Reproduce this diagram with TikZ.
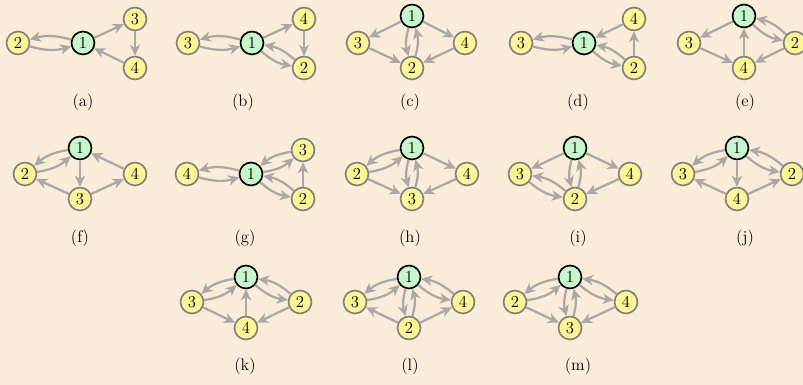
\documentclass[tikz,border=0pt]{standalone}
\usetikzlibrary{arrows.meta}
\definecolor{bg}{RGB}{250,236,216}
\definecolor{ylw}{RGB}{255,244,150}
\definecolor{grn}{RGB}{200,246,204}
\definecolor{ngray}{RGB}{128,128,128}
\definecolor{egray}{RGB}{168,168,168}
\tikzset{
  v/.style={circle, draw=ngray, fill=ylw, line width=1.2pt, minimum size=16.5pt, inner sep=0pt, font=\fontsize{12}{14}\selectfont},
  root/.style={v, draw=black, fill=grn},
  e/.style={draw=egray, line width=1.6pt, -{Stealth[length=8pt,width=7.5pt,inset=2.5pt]}},
  pr/.style={e, bend right=16},
  lab/.style={inner sep=0pt, font=\fontsize{12}{14}\selectfont}
}
\begin{document}
\begin{tikzpicture}[x=0.72pt,y=-0.72pt]
\fill[bg] (0,0) rectangle (803,385);
\useasboundingbox (0,0) rectangle (803,385);
\clip (0,0) rectangle (803,385);
% (a)
\node[root] (a1) at (83,43) {1};
\node[v] (a2) at (18,43) {2};
\node[v] (a3) at (135,19) {3};
\node[v] (a4) at (135,68) {4};
\draw[pr] (a1) to (a2); \draw[pr] (a2) to (a1);
\draw[e] (a1) -- (a3); \draw[e] (a3) -- (a4); \draw[e] (a4) -- (a1);
\node[lab] (la) at (83,102) {(a)};
% (b)
\node[root] (b1) at (252,43) {1};
\node[v] (b3) at (188,43) {3};
\node[v] (b4) at (304,19) {4};
\node[v] (b2) at (304,68) {2};
\draw[pr] (b1) to (b3); \draw[pr] (b3) to (b1);
\draw[e] (b1) -- (b4); \draw[e] (b4) -- (b2);
\draw[pr] (b1) to (b2); \draw[pr] (b2) to (b1);
\node[lab] (lb) at (243,102) {(b)};
% (c)
\node[root] (c1) at (412,16) {1};
\node[v] (c3) at (358,43) {3};
\node[v] (c2) at (412,68) {2};
\node[v] (c4) at (465,43) {4};
\draw[e] (c1) -- (c3); \draw[e] (c1) -- (c4);
\draw[e] (c3) -- (c2); \draw[e] (c4) -- (c2);
\draw[pr] (c1) to (c2); \draw[pr] (c2) to (c1);
\node[lab] (lc) at (410,102) {(c)};
% (d)
\node[root] (d1) at (584,43) {1};
\node[v] (d3) at (521,43) {3};
\node[v] (d4) at (634,19) {4};
\node[v] (d2) at (634,68) {2};
\draw[pr] (d1) to (d3); \draw[pr] (d3) to (d1);
\draw[e] (d4) -- (d1); \draw[e] (d2) -- (d4);
\draw[pr] (d1) to (d2); \draw[pr] (d2) to (d1);
\node[lab] (ld) at (578,102) {(d)};
% (e)
\node[root] (e1) at (744,16) {1};
\node[v] (e3) at (689,43) {3};
\node[v] (e4) at (744,68) {4};
\node[v] (e2) at (795,43) {2};
\draw[e] (e1) -- (e3); \draw[e] (e3) -- (e4); \draw[e] (e4) -- (e1);
\draw[e] (e2) -- (e4);
\draw[pr] (e1) to (e2); \draw[pr] (e2) to (e1);
\node[lab] (le) at (745,102) {(e)};
% (f)
\node[root] (f1) at (80,148) {1};
\node[v] (f2) at (25,174) {2};
\node[v] (f3) at (80,199) {3};
\node[v] (f4) at (135,174) {4};
\draw[pr] (f1) to (f2); \draw[pr] (f2) to (f1);
\draw[e] (f1) -- (f3); \draw[e] (f3) -- (f2); \draw[e] (f3) -- (f4); \draw[e] (f4) -- (f1);
\node[lab] (lf) at (80,238) {(f)};
% (g)
\node[root] (g1) at (251,174) {1};
\node[v] (g4) at (187,174) {4};
\node[v] (g3) at (303,150) {3};
\node[v] (g2) at (303,199) {2};
\draw[pr] (g1) to (g4); \draw[pr] (g4) to (g1);
\draw[pr] (g1) to (g3); \draw[pr] (g3) to (g1);
\draw[e] (g2) -- (g3);
\draw[pr] (g1) to (g2); \draw[pr] (g2) to (g1);
\node[lab] (lg) at (245,238) {(g)};
% (h)
\node[root] (h1) at (412,148) {1};
\node[v] (h2) at (357,174) {2};
\node[v] (h3) at (412,199) {3};
\node[v] (h4) at (467,174) {4};
\draw[pr] (h1) to (h2); \draw[pr] (h2) to (h1);
\draw[e] (h2) -- (h3); \draw[e] (h1) -- (h4); \draw[e] (h4) -- (h3);
\draw[pr] (h1) to (h3); \draw[pr] (h3) to (h1);
\node[lab] (lh) at (410,238) {(h)};
% (i)
\node[root] (i1) at (575,148) {1};
\node[v] (i3) at (520,174) {3};
\node[v] (i2) at (575,199) {2};
\node[v] (i4) at (630,174) {4};
\draw[e] (i1) -- (i3); \draw[e] (i1) -- (i4); \draw[e] (i4) -- (i2);
\draw[pr] (i1) to (i2); \draw[pr] (i2) to (i1);
\draw[pr] (i2) to (i3); \draw[pr] (i3) to (i2);
\node[lab] (li) at (578,238) {(i)};
% (j)
\node[root] (j1) at (737,148) {1};
\node[v] (j3) at (683,174) {3};
\node[v] (j4) at (737,199) {4};
\node[v] (j2) at (792,174) {2};
\draw[pr] (j1) to (j3); \draw[pr] (j3) to (j1);
\draw[e] (j1) -- (j4); \draw[e] (j4) -- (j3); \draw[e] (j4) -- (j2);
\draw[pr] (j1) to (j2); \draw[pr] (j2) to (j1);
\node[lab] (lj) at (745,238) {(j)};
% (k)
\node[root] (k1) at (246,277) {1};
\node[v] (k3) at (192,302) {3};
\node[v] (k4) at (246,328) {4};
\node[v] (k2) at (300,302) {2};
\draw[pr] (k1) to (k3); \draw[pr] (k3) to (k1);
\draw[e] (k3) -- (k4); \draw[e] (k4) -- (k1); \draw[e] (k2) -- (k4);
\draw[pr] (k1) to (k2); \draw[pr] (k2) to (k1);
\node[lab] (lk) at (245,366) {(k)};
% (l)
\node[root] (l1) at (409,277) {1};
\node[v] (l3) at (355,302) {3};
\node[v] (l2) at (409,328) {2};
\node[v] (l4) at (463,302) {4};
\draw[pr] (l1) to (l3); \draw[pr] (l3) to (l1);
\draw[e] (l2) -- (l3); \draw[e] (l2) -- (l4);
\draw[pr] (l1) to (l2); \draw[pr] (l2) to (l1);
\draw[pr] (l1) to (l4); \draw[pr] (l4) to (l1);
\node[lab] (ll) at (410,366) {(l)};
% (m)
\node[root] (m1) at (570,277) {1};
\node[v] (m2) at (515,302) {2};
\node[v] (m3) at (570,328) {3};
\node[v] (m4) at (626,302) {4};
\draw[pr] (m1) to (m2); \draw[pr] (m2) to (m1);
\draw[e] (m2) -- (m3); \draw[e] (m4) -- (m3);
\draw[pr] (m1) to (m3); \draw[pr] (m3) to (m1);
\draw[pr] (m1) to (m4); \draw[pr] (m4) to (m1);
\node[lab] (lm) at (578,366) {(m)};
\end{tikzpicture}
\end{document}
